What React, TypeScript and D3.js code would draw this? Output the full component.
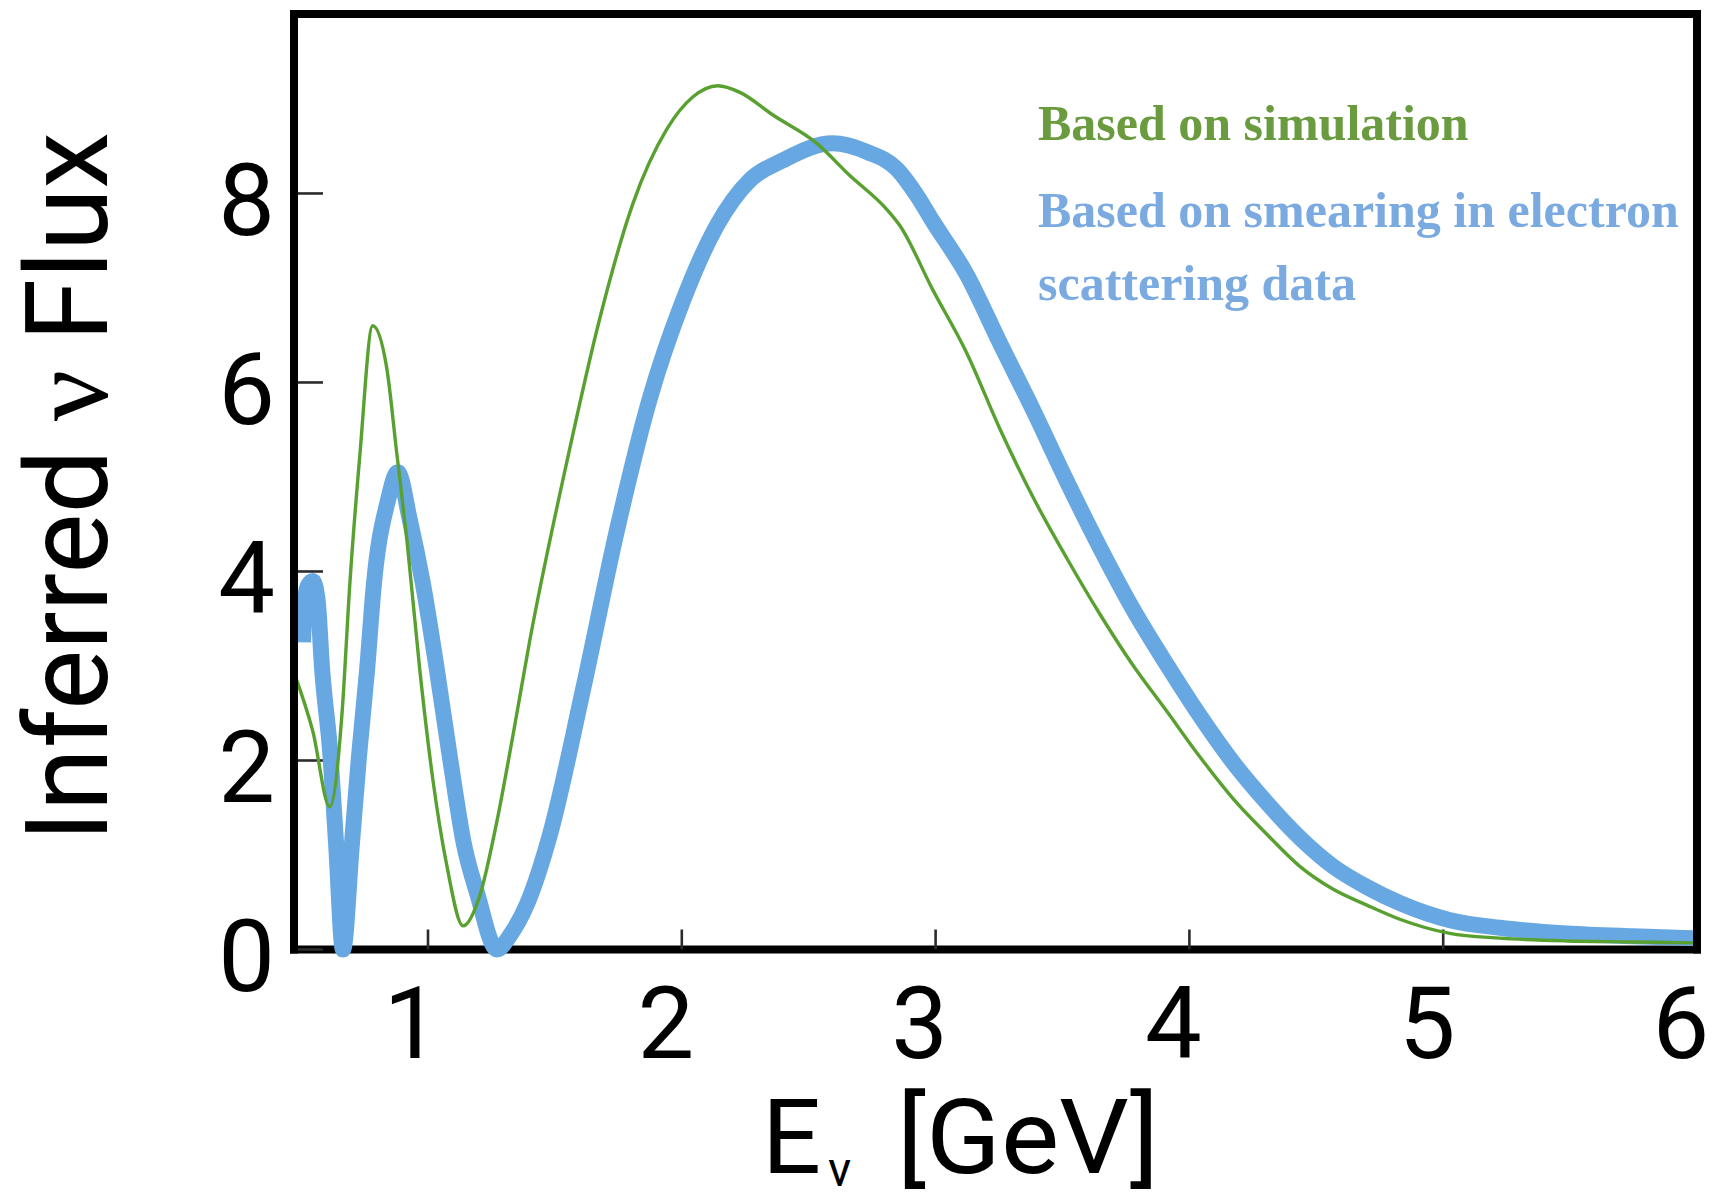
import React from "react";
import * as d3 from "d3";

// Energy grid (GeV) and inferred flux for the simulation-based curve
const simEnergy = [
  0.472, 0.546, 0.613, 0.661, 0.692, 0.732, 0.782, 0.837, 0.877, 0.917,
  0.968, 1.019, 1.074, 1.138, 1.204, 1.271, 1.335, 1.401, 1.547, 1.677,
  1.807, 1.941, 2.043, 2.142, 2.229, 2.359, 2.532, 2.662, 2.808, 2.859,
  2.989, 3.123, 3.253, 3.383, 3.517, 3.647, 3.777, 3.911, 4.041, 4.171,
  4.305, 4.435, 4.565, 4.699, 4.829, 5.026, 5.223, 5.487, 5.747, 5.985,
];
const simFlux = [
  2.93, 2.31, 1.51, 2.49, 3.87, 5.25, 6.6, 6.16, 5.25, 4.33,
  2.95, 1.8, 0.89, 0.25, 0.57, 1.35, 2.27, 3.27, 5.16, 6.68,
  7.89, 8.68, 9.02, 9.14, 9.07, 8.83, 8.53, 8.19, 7.83, 7.66,
  6.98, 6.31, 5.51, 4.79, 4.14, 3.55, 3.01, 2.52, 2.04, 1.6,
  1.22, 0.88, 0.64, 0.47, 0.32, 0.17, 0.12, 0.09, 0.08, 0.07,
];

// Energy grid (GeV) and inferred flux from electron-scattering smearing
const smearEnergy = [
  0.508, 0.512, 0.525, 0.546, 0.565, 0.583, 0.616, 0.638, 0.665, 0.7,
  0.728, 0.76, 0.787, 0.842, 0.881, 0.928, 0.98, 1.035, 1.086, 1.142,
  1.193, 1.272, 1.323, 1.39, 1.48, 1.61, 1.744, 1.874, 2.004, 2.138,
  2.268, 2.398, 2.595, 2.729, 2.847, 2.926, 2.99, 3.123, 3.253, 3.384,
  3.518, 3.648, 3.778, 3.912, 4.042, 4.172, 4.306, 4.436, 4.566, 4.7,
  4.83, 5.027, 5.224, 5.488, 5.748, 5.985,
];
const smearFlux = [
  3.25, 3.6, 3.84, 3.9, 3.7, 2.96, 2.04, 1.11, 0.0, 1.11,
  2.04, 2.96, 3.87, 4.75, 5.05, 4.55, 3.87, 2.96, 2.04, 1.11,
  0.6, 0.0, 0.15, 0.48, 1.21, 2.74, 4.43, 5.83, 6.86, 7.66,
  8.14, 8.35, 8.53, 8.44, 8.26, 7.98, 7.7, 7.14, 6.42, 5.71,
  4.95, 4.25, 3.6, 3.01, 2.47, 1.98, 1.55, 1.18, 0.88, 0.66,
  0.49, 0.31, 0.23, 0.17, 0.14, 0.12,
];

const xTickValues = [1, 2, 3, 4, 5, 6];
const yTickValues = [0, 2, 4, 6, 8];

const legendSim = "Based on simulation";
const legendSmear = ["Based on smearing in electron", "scattering data"];

const W = 1719;
const H = 1201;

export default function App() {
  const x = d3.scaleLinear().domain([0.472, 6.0]).range([294, 1697]);
  const y = d3.scaleLinear().domain([0, 9.9]).range([949.5, 13.9]);

  const line = d3
    .line<[number, number]>()
    .x((d) => x(d[0]))
    .y((d) => y(d[1]))
    .curve(d3.curveMonotoneX);

  const simPts = simEnergy.map((e, i) => [e, simFlux[i]] as [number, number]);
  const smearPts = smearEnergy.map((e, i) => [e, smearFlux[i]] as [number, number]);

  const [x0, x1] = x.range();
  const yTop = y(9.9);
  const yBot = y(0);
  const frameW = 8;
  const tickFont = "Roboto, 'Noto Sans', sans-serif";

  return (
    <svg
      width={W}
      height={H}
      viewBox={`0 0 ${W} ${H}`}
      style={{ position: "absolute", left: 0, top: 0, background: "#fff" }}
    >
      {/* bottom axis line sits under the curves */}
      <line x1={x0 - 4} x2={x1 + 4} y1={yBot} y2={yBot} stroke="#000" strokeWidth={frameW} />

      {/* tick marks, pointing inward */}
      {xTickValues.map((v) => (
        <line key={"xt" + v} x1={x(v)} x2={x(v)} y1={yBot} y2={yBot - 20} stroke="#2b2b2b" strokeWidth={2.6} />
      ))}
      {yTickValues.map((v) => (
        <line key={"yt" + v} x1={x0} x2={x0 + 29} y1={y(v)} y2={y(v)} stroke="#2b2b2b" strokeWidth={2.6} />
      ))}

      {/* flux curves */}
      <path d={line(smearPts) || ""} fill="none" stroke="#68a8e2" strokeWidth={16} strokeLinejoin="round" />
      <path d={line(simPts) || ""} fill="none" stroke="#58a02f" strokeWidth={3.4} strokeLinejoin="round" />

      {/* remaining frame sides */}
      <line x1={x0} x2={x0} y1={yTop - 4} y2={yBot + 4} stroke="#000" strokeWidth={frameW} />
      <line x1={x1} x2={x1} y1={yTop - 4} y2={yBot + 4} stroke="#000" strokeWidth={frameW} />
      <line x1={x0 - 4} x2={x1 + 4} y1={yTop} y2={yTop} stroke="#000" strokeWidth={frameW} />

      {/* tick labels */}
      {yTickValues.map((v) => (
        <text
          key={"yl" + v}
          x={275}
          y={y(v) + 7}
          textAnchor="end"
          dominantBaseline="central"
          fontFamily={tickFont}
          fontSize={101}
          fill="#000"
        >
          {v}
        </text>
      ))}
      {xTickValues.map((v) => (
        <text
          key={"xl" + v}
          x={x(v) - 16}
          y={1058}
          textAnchor="middle"
          fontFamily={tickFont}
          fontSize={101}
          fill="#000"
        >
          {v}
        </text>
      ))}

      {/* axis titles */}
      <text
        transform="translate(107,487) rotate(-90)"
        textAnchor="middle"
        fontFamily={tickFont}
        fontSize={115}
        textLength={710}
        lengthAdjust="spacingAndGlyphs"
        fill="#000"
      >
        Inferred <tspan fontFamily="'Liberation Serif', 'DejaVu Serif', serif">ν</tspan> Flux
      </text>
      <text x={762} y={1173} fontFamily={tickFont} fontSize={104} fill="#000">
        E
      </text>
      <text x={828} y={1186} fontFamily={tickFont} fontSize={48} fill="#000">
        ν
      </text>
      <text
        x={897}
        y={1173}
        fontFamily={tickFont}
        fontSize={104}
        textLength={262}
        lengthAdjust="spacingAndGlyphs"
        fill="#000"
      >
        [GeV]
      </text>

      {/* legend */}
      <g fontFamily="'Liberation Serif', 'Times New Roman', serif" fontWeight="bold" fontSize={50}>
        <text x={1038} y={140} fill="#6a9b3f">
          {legendSim}
        </text>
        <text x={1038} y={227} fill="#7aaae0">
          {legendSmear[0]}
        </text>
        <text x={1038} y={300} fill="#7aaae0">
          {legendSmear[1]}
        </text>
      </g>
    </svg>
  );
}
